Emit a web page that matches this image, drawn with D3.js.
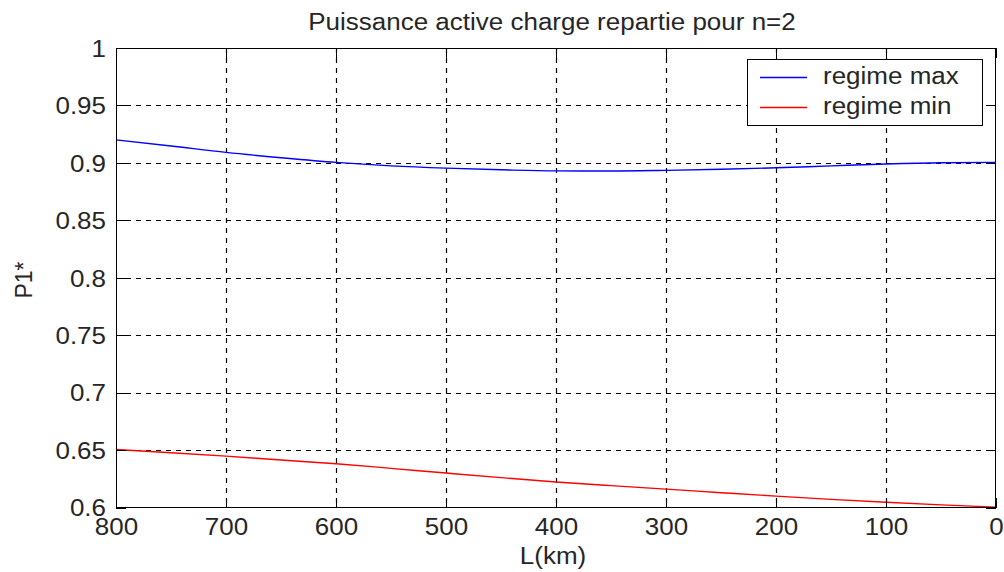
<!DOCTYPE html>
<html>
<head>
<meta charset="utf-8">
<script src="https://cdn.jsdelivr.net/npm/d3@7"></script>
<style>
  html, body { margin: 0; padding: 0; background: #fff; }
  svg text { font-family: "Liberation Sans", Arial, sans-serif; font-size: 23px; fill: #262626; }
</style>
</head>
<body>
<svg id="chart" width="1004" height="572"></svg>
<script>
// Line length L (km), sampled every 50 km
const lengths = [800, 750, 700, 650, 600, 550, 500, 450, 400, 350, 300, 250, 200, 150, 100, 50, 0];
// Active power P1* (p.u.) for the two operating regimes
const regimeMax = [0.920, 0.9147, 0.9091, 0.9045, 0.9004, 0.8974, 0.8954, 0.8940, 0.8930, 0.8929, 0.8935, 0.8944, 0.8957, 0.8974, 0.8990, 0.9001, 0.9004];
const regimeMin = [0.6505, 0.6477, 0.6447, 0.6413, 0.6381, 0.6341, 0.6300, 0.6260, 0.6222, 0.6190, 0.6160, 0.6129, 0.6099, 0.6071, 0.6046, 0.6023, 0.6003];

const xTicks = [800, 700, 600, 500, 400, 300, 200, 100, 0];
const yTicks = [0.6, 0.65, 0.7, 0.75, 0.8, 0.85, 0.9, 0.95, 1];
const seriesNames = ["regime max", "regime min"];
const seriesColors = ["#0000ff", "#ff0000"];
const titleText = "Puissance active charge repartie pour n=2";
const xLabel = "L(km)";
const yLabel = "P1*";

const SX = 1.13; // horizontal stretch of the text glyphs
const box = { left: 116, right: 996, top: 48, bottom: 507.5 };

const svg = d3.select("#chart");

// Reversed x axis: 800 km on the left, 0 km on the right
const x = d3.scaleLinear().domain([800, 0]).range([box.left, box.right]);
const y = d3.scaleLinear().domain([0.6, 1]).range([box.bottom, box.top]);

// Dashed grid
const grid = svg.append("g").attr("stroke", "#000").attr("stroke-width", 1.2)
  .attr("stroke-dasharray", "5,5");
grid.selectAll("line.v").data(xTicks.filter(d => d !== 800 && d !== 0)).join("line")
  .attr("x1", d => Math.round(x(d)) + 0.5).attr("x2", d => Math.round(x(d)) + 0.5)
  .attr("y1", box.top).attr("y2", box.bottom);
grid.selectAll("line.h").data(yTicks.filter(d => d !== 0.6 && d !== 1)).join("line")
  .attr("y1", d => Math.round(y(d)) + 0.5).attr("y2", d => Math.round(y(d)) + 0.5)
  .attr("x1", box.left).attr("x2", box.right);

// Data lines
const line = (vals) => d3.line().curve(d3.curveMonotoneX)
  .x((d, i) => x(lengths[i])).y(d => y(d))(vals);
[regimeMax, regimeMin].forEach((vals, k) => {
  svg.append("path").attr("d", line(vals)).attr("fill", "none")
    .attr("stroke", seriesColors[k]).attr("stroke-width", 1.4);
});

// Axes with inward ticks on all four sides
const tickLen = 10;
function styleAxis(g) {
  g.select(".domain").remove();
  g.selectAll(".tick line").attr("stroke", "#000").attr("shape-rendering", "crispEdges");
}
const textStyle = sel => sel.attr("fill", "#262626")
  .style("font-size", "23px").style("font-family", "'Liberation Sans', Arial, sans-serif");

const xb = svg.append("g").attr("transform", `translate(0,${box.bottom})`)
  .call(d3.axisBottom(x).tickValues(xTicks).tickSize(-tickLen).tickPadding(0).tickFormat(d3.format("d")));
styleAxis(xb);
xb.selectAll(".tick text").attr("y", 28).attr("dy", 0)
  .attr("transform", `scale(${SX},1)`).call(textStyle);

const xt = svg.append("g").attr("transform", `translate(0,${box.top})`)
  .call(d3.axisTop(x).tickValues(xTicks).tickSize(-tickLen).tickFormat(""));
styleAxis(xt);

const yl = svg.append("g").attr("transform", `translate(${box.left},0)`)
  .call(d3.axisLeft(y).tickValues(yTicks).tickSize(-tickLen).tickPadding(0).tickFormat(d => d3.format("")(d)));
styleAxis(yl);
yl.selectAll(".tick text").attr("x", -10 / SX).attr("dy", "0.36em")
  .attr("transform", `scale(${SX},1)`).call(textStyle);

const yr = svg.append("g").attr("transform", `translate(${box.right},0)`)
  .call(d3.axisRight(y).tickValues(yTicks).tickSize(-tickLen).tickFormat(""));
styleAxis(yr);

// Axes box
svg.append("rect").attr("x", box.left + 0.5).attr("y", box.top + 0.5)
  .attr("width", box.right - box.left - 1).attr("height", box.bottom - box.top - 1)
  .attr("fill", "none").attr("stroke", "#000").attr("stroke-width", 1)
  .attr("shape-rendering", "crispEdges");

// Title and axis labels
svg.append("text").attr("text-anchor", "middle")
  .attr("transform", `translate(552,30) scale(${SX},1)`).text(titleText);
svg.append("text").attr("text-anchor", "middle")
  .attr("transform", `translate(553,564) scale(${SX},1)`).text(xLabel);
svg.append("text").attr("text-anchor", "middle")
  .attr("transform", `translate(32,280) rotate(-90)`).text(yLabel);

// Legend
const lg = svg.append("g");
lg.append("rect").attr("x", 747.5).attr("y", 59.5).attr("width", 235).attr("height", 66)
  .attr("fill", "#fff").attr("stroke", "#000").attr("stroke-width", 1)
  .attr("shape-rendering", "crispEdges");
seriesNames.forEach((name, k) => {
  const yy = 77.5 + k * 30;
  lg.append("line").attr("x1", 760).attr("x2", 807).attr("y1", yy).attr("y2", yy)
    .attr("stroke", seriesColors[k]).attr("stroke-width", 1.4);
  lg.append("text").attr("transform", `translate(823,${yy + 6}) scale(${SX},1)`).text(name);
});
</script>
</body>
</html>
